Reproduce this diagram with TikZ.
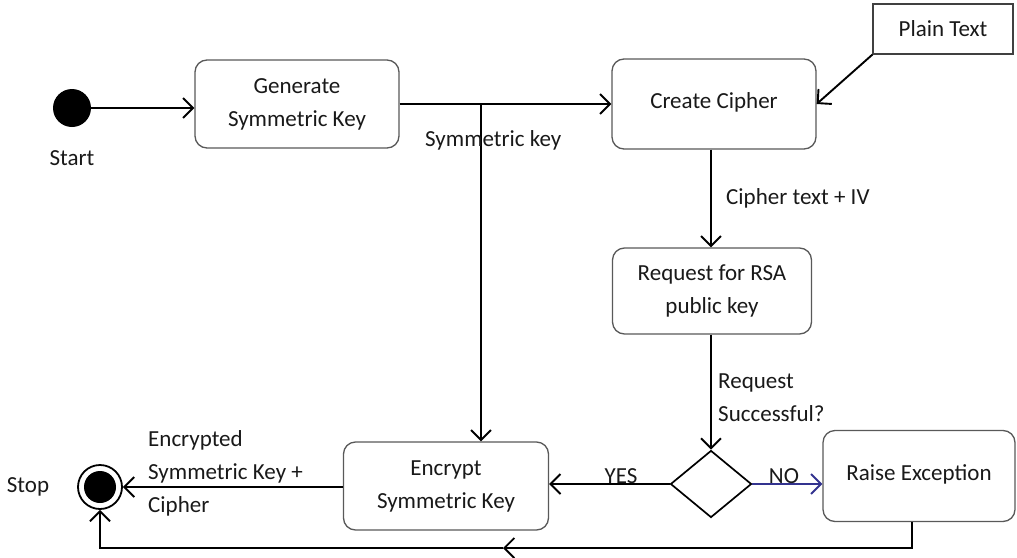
\documentclass[tikz,border=0pt]{standalone}
\usepackage{fontspec}
\setmainfont{Carlito}
\usetikzlibrary{arrows.meta,shapes.geometric}
\begin{document}
\begin{tikzpicture}[x=1pt,y=-1pt,
  every node/.style={font=\fontsize{23}{33}\selectfont, text=black!90},
  actbox/.style={draw=black!65, line width=1.3pt, rounded corners=12pt, fill=white, align=center, inner sep=0pt},
  plainbox/.style={draw=black!75, line width=1.1pt, fill=white, inner sep=0pt},
  lbl/.style={anchor=west, inner sep=0pt, align=left},
  flow/.style={draw=black, line width=1.9pt, -{Straight Barb[length=10pt,width=20pt,line width=1.9pt]}},
  noflow/.style={draw=blue!45!black!80, line width=1.9pt, -{Straight Barb[length=10pt,width=20pt,line width=1.9pt]}}
]
\useasboundingbox (0,0) rectangle (1017,557);

% initial and final states
\node[circle, fill=black, minimum size=38pt, inner sep=0pt] (start) at (72,108) {};
\node (startlbl) at (72,158) {Start};
\node[circle, draw=black, line width=1.8pt, minimum size=44pt, inner sep=0pt, fill=white] (stop) at (100,487) {};
\node[circle, fill=black, minimum size=32pt, inner sep=0pt] (stopdot) at (100,487) {};
\node (stoplbl) at (28,487) {Stop};

% activities
\node[actbox, minimum width=204pt, minimum height=88pt] (gen) at (297,104) {Generate\\Symmetric Key};
\node[actbox, minimum width=204pt, minimum height=90pt] (cc) at (714,104) {\raisebox{7pt}{Create Cipher}};
\node[plainbox, minimum width=140pt, minimum height=50pt] (pt) at (943,29) {Plain Text};
\node[actbox, minimum width=199pt, minimum height=86pt] (req) at (712,291) {Request for RSA\\public key};
\node[shape=diamond, draw=black, line width=1.7pt, inner sep=0pt, minimum width=81pt, minimum height=67pt, fill=white] (dec) at (711,484) {};
\node[actbox, minimum width=192pt, minimum height=91pt] (re) at (919,476) {\raisebox{7pt}{Raise Exception}};
\node[actbox, minimum width=205pt, minimum height=88pt] (enc) at (446,486) {Encrypt\\Symmetric Key};

% flows
\draw[flow] (start.east) -- (gen.west |- start.east);
\draw[flow] (gen) -- (cc);
\coordinate (sk) at (481,104);
\draw[flow] (sk) -- (enc.north -| sk);
\draw[flow] (pt.south west) -- (cc.east);
\draw[flow] (cc.south -| dec.north) -- (req.north -| dec.north);
\draw[flow] (req.south -| dec.north) -- (dec.north);
\draw[flow] (dec.west) -- (enc.east |- dec.west);
\draw[noflow] (dec.east) -- (re.west |- dec.east);
\draw[flow] (enc.west |- stop.east) -- (stop.east);

% exception path back to the final state
\coordinate (reb) at (912,548);
\coordinate (mid) at (503,548);
\coordinate (stb) at (100,548);
\draw[flow] (re.south -| reb) -- (reb) -- (mid);
\draw[flow] (mid) -- (stb) -- (stop.south);

% flow labels
\node[lbl] (sklbl) at (425,140) {Symmetric key};
\node[lbl] (ctlbl) at (726,198) {Cipher text + IV};
\node[lbl] (rslbl) at (718,398) {Request\\Successful?};
\node (yes) at (621,476) {YES};
\node (no) at (784,476) {NO};
\node[lbl] (enclbl) at (148,473) {Encrypted\\Symmetric Key +\\Cipher};
\end{tikzpicture}
\end{document}
